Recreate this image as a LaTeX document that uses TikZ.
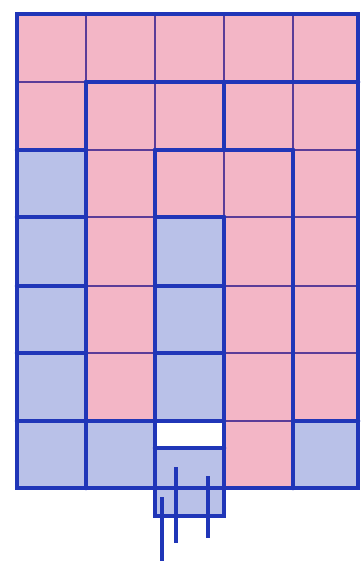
\documentclass[tikz,border=0pt]{standalone}
\definecolor{pinkc}{HTML}{F3B6C6}
\definecolor{bluec}{HTML}{B9C1E8}
\definecolor{thickc}{HTML}{2036B8}
\definecolor{thinc}{HTML}{5A3C98}
\tikzset{
  thickline/.style={draw=thickc, line width=4.5pt, line cap=round},
  thinline/.style={draw=thinc, line width=2pt},
  wire/.style={draw=thickc, line width=3.5pt}
}
\begin{document}
\begin{tikzpicture}[x=1pt,y=-1pt]
\useasboundingbox (0,0) rectangle (361,561);
\fill[white] (0,0) rectangle (361,561);
% pink base
\fill[pinkc] (17,14) rectangle (358,488);
% blue cells
\fill[bluec] (17,150) rectangle (86,488);
\fill[bluec] (86,421) rectangle (155,488);
\fill[bluec] (155,217) rectangle (224,421);
\fill[bluec] (293,421) rectangle (358,488);
\fill[bluec] (155,448) rectangle (224,516);
\fill[white] (155,421) rectangle (224,448);
% thin grid
\foreach \x in {86,155,224,293} \draw[thinline] (\x,14) -- (\x,488);
\foreach \y in {82,150,217,286,353,421} \draw[thinline] (17,\y) -- (358,\y);
% thick region boundaries
\draw[thickline] (17,14) rectangle (358,488);
\draw[thickline] (86,82) -- (358,82);
\draw[thickline] (86,82) -- (86,488);
\draw[thickline] (155,150) -- (155,516) -- (224,516) -- (224,217);
\draw[thickline] (224,82) -- (224,150);
\draw[thickline] (293,150) -- (293,488);
\draw[thickline] (17,150) -- (86,150);
\draw[thickline] (155,150) -- (293,150);
\foreach \y in {217,286,353} {
  \draw[thickline] (17,\y) -- (86,\y);
  \draw[thickline] (155,\y) -- (224,\y);
}
\draw[thickline] (17,421) -- (224,421);
\draw[thickline] (293,421) -- (358,421);
\draw[thickline] (155,448) -- (224,448);
% wires
\draw[wire] (162,497) -- (162,561);
\draw[wire] (176,467) -- (176,543);
\draw[wire] (208,476) -- (208,538);
\end{tikzpicture}
\end{document}
